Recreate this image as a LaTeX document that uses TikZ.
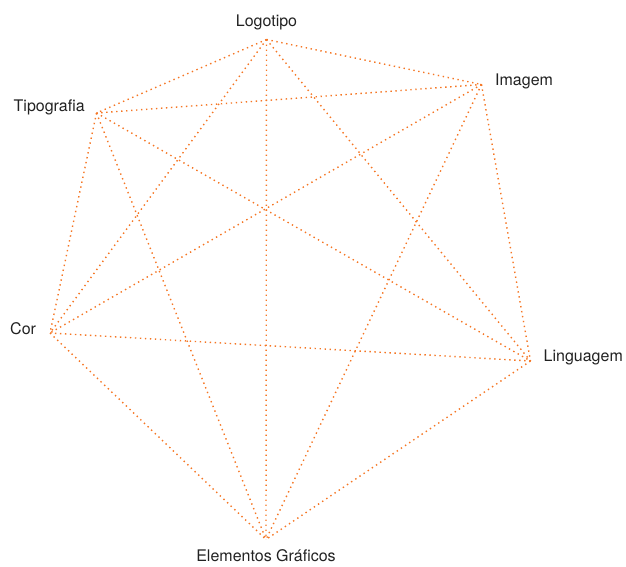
\documentclass[tikz,border=0pt]{standalone}
\usepackage{fontspec}
\setmainfont{TeX Gyre Heros}
\definecolor{edgeorange}{RGB}{245,118,36}
\definecolor{labelgray}{RGB}{34,34,34}
\begin{document}
\begin{tikzpicture}[x=1pt,y=-1pt,
  edge/.style={draw=edgeorange,line width=1.4pt,dash pattern=on 1.4pt off 3.6pt,line cap=butt},
  lbl/.style={inner sep=0pt,text=labelgray,font=\fontsize{16}{19}\selectfont}]
\useasboundingbox (0,0) rectangle (626,566);
\coordinate (L) at (266.5,39.5);
\coordinate (I) at (481.5,84.5);
\coordinate (T) at (96.5,113);
\coordinate (C) at (50,333);
\coordinate (G) at (530.5,361);
\coordinate (E) at (266,539.5);
\foreach \a/\b in {L/I,L/T,L/C,L/G,L/E,I/T,I/C,I/G,I/E,T/C,T/G,T/E,C/G,C/E,G/E}
  \path[edge] (\a) -- (\b);
\node[lbl,anchor=base] (lL) at (266.5,26) {Logotipo};
\node[lbl,anchor=base west] (lI) at (495,85) {Imagem};
\node[lbl,anchor=base west] (lT) at (13.5,111) {Tipografia};
\node[lbl,anchor=base west] (lC) at (10,334.5) {Cor};
\node[lbl,anchor=base west] (lG) at (543.5,361.5) {Linguagem};
\node[lbl,anchor=base] (lE) at (266,561.5) {Elementos Gráficos};
\end{tikzpicture}
\end{document}
